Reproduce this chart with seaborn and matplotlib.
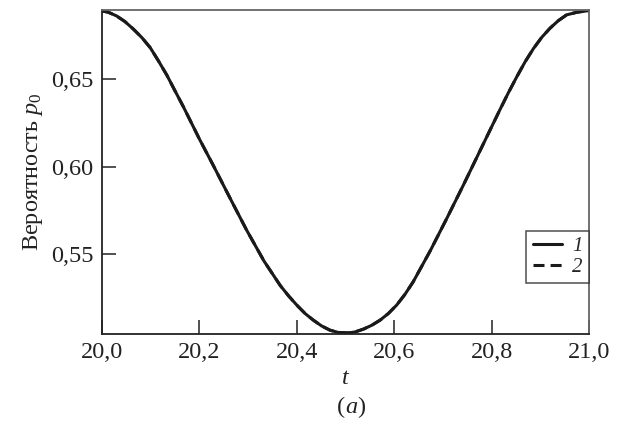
"""Probability p0 versus time, curves 1 and 2"""
import matplotlib
matplotlib.use('Agg')
import matplotlib.pyplot as plt
import seaborn as sns

# values
t_values = [20.000, 20.013, 20.030, 20.047, 20.064, 20.082, 20.099, 20.116,
            20.133, 20.150, 20.167, 20.184, 20.201, 20.229, 20.264, 20.297,
            20.333, 20.366, 20.383, 20.400, 20.417, 20.434, 20.451, 20.468,
            20.485, 20.506, 20.520, 20.537, 20.554, 20.571, 20.588, 20.605,
            20.622, 20.639, 20.674, 20.708, 20.742, 20.776, 20.817, 20.834,
            20.852, 20.869, 20.886, 20.903, 20.920, 20.937, 20.954, 20.975,
            20.995, 21.000]
p0_curve_1 = [0.6890, 0.6882, 0.6861, 0.6829, 0.6787, 0.6737, 0.6680, 0.6604,
              0.6524, 0.6433, 0.6343, 0.6248, 0.6153, 0.6005, 0.5815, 0.5638,
              0.5460, 0.5322, 0.5263, 0.5210, 0.5162, 0.5124, 0.5091, 0.5067,
              0.5054, 0.5051, 0.5057, 0.5073, 0.5095, 0.5124, 0.5162, 0.5210,
              0.5271, 0.5343, 0.5520, 0.5705, 0.5895, 0.6090, 0.6325, 0.6420,
              0.6515, 0.6600, 0.6675, 0.6739, 0.6791, 0.6834, 0.6867, 0.6882,
              0.6890, 0.6890]
# curve 2 is not distinguishable from curve 1 in the picture
p0_curve_2 = list(p0_curve_1)
series_labels = ['1', '2']

x_ticks = [20.0, 20.2, 20.4, 20.6, 20.8, 21.0]
x_tick_labels = ['20,0', '20,2', '20,4', '20,6', '20,8', '21,0']
y_ticks = [0.55, 0.60, 0.65]
y_tick_labels = ['0,55', '0,60', '0,65']

sns.set_style('ticks')
plt.rcParams['font.family'] = ['Liberation Serif', 'DejaVu Serif']
plt.rcParams['mathtext.fontset'] = 'custom'
plt.rcParams['mathtext.rm'] = 'Liberation Serif'
plt.rcParams['mathtext.it'] = 'Liberation Serif:italic'

fig = plt.figure(figsize=(6.2, 4.23), dpi=100)
ax = fig.add_axes([0.1645, 0.2104, 0.7855, 0.766])

sns.lineplot(x=t_values, y=p0_curve_1, ax=ax, color='#1a1a1a', lw=2.2,
             label=series_labels[0])
sns.lineplot(x=t_values, y=p0_curve_2, ax=ax, color='#1a1a1a', lw=2.2,
             linestyle=(0, (3.6, 2.0)), label=series_labels[1])

ax.set_xlim(20.0, 21.0)
ax.set_ylim(0.5045, 0.6895)
ax.set_xticks(x_ticks)
ax.set_xticklabels(x_tick_labels)
ax.set_yticks(y_ticks)
ax.set_yticklabels(y_tick_labels)
ax.tick_params(direction='in', length=10, width=1.1, labelsize=17.5,
               colors='#222222', pad=6)

for side in ['left', 'bottom']:
    ax.spines[side].set_linewidth(1.3)
    ax.spines[side].set_color('#222222')
for side in ['top', 'right']:
    ax.spines[side].set_linewidth(1.3)
    ax.spines[side].set_color('#666666')

ax.set_ylabel(r'Вероятность $p_0$', fontsize=17.5, color='#222222')
ax.yaxis.set_label_coords(-0.118, 0.5)
ax.set_xlabel('')
fig.text(345 / 620, 1 - 378 / 423, 't', fontsize=17.5, style='italic',
         ha='center', va='center', color='#222222')
fig.text(345 / 620, 1 - 407 / 423, '(', fontsize=17.5, ha='right',
         va='center', color='#222222')
fig.text(345 / 620, 1 - 407 / 423, r'$a$)', fontsize=17.5, ha='left',
         va='center', color='#222222')

leg = ax.legend(loc='center right', bbox_to_anchor=(1.0, 0.238),
                borderaxespad=0, frameon=True, fancybox=False,
                handlelength=1.4, handletextpad=0.5, labelspacing=0.05,
                borderpad=0.3,
                prop={'style': 'italic', 'size': 15,
                      'family': 'Liberation Serif'})
leg.get_frame().set_edgecolor('#222222')
leg.get_frame().set_linewidth(1.1)

fig.savefig('out.png', dpi=100)
